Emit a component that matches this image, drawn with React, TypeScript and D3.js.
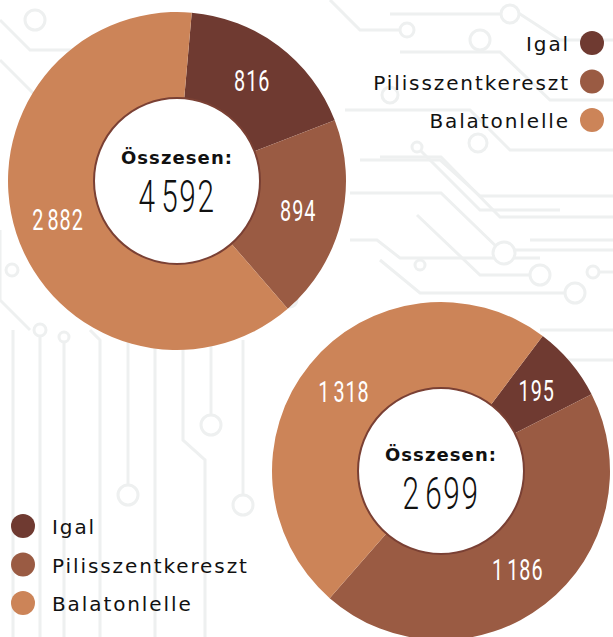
import React from 'react';
import * as d3 from 'd3';

const categories = ['Igal', 'Pilisszentkereszt', 'Balatonlelle'];
const valuesTop = [816, 894, 2882];
const valuesBottom = [195, 1186, 1318];
const totalLabel = 'Összesen:';
const colors = ['#6f3a31', '#9a5b43', '#cc8458'];

const W = 613;
const H = 637;
const R_OUT = 169;
const R_IN = 83;

const fmt = d3.formatLocale({ decimal: ',', thousands: '\u200A', grouping: [3], currency: ['', ''] }).format(',d');

// faint circuit board traces behind the charts
const traces: [number, number][][] = [
  [[0, 20], [30, 50], [150, 50]],
  [[0, 60], [35, 95], [60, 95]],
  [[330, 0], [360, 30], [400, 30]],
  [[390, 14], [520, 14], [560, 40], [613, 40]],
  [[400, 52], [500, 52], [550, 100], [613, 100]],
  [[345, 110], [470, 110], [510, 150], [613, 150]],
  [[360, 160], [440, 160], [480, 196], [613, 196]],
  [[380, 157], [441, 157], [500, 217], [613, 217]],
  [[350, 193], [441, 193], [500, 250], [613, 250]],
  [[350, 240], [377, 240], [400, 258], [540, 258]],
  [[417, 147], [480, 210], [560, 210]],
  [[417, 215], [480, 275], [540, 275]],
  [[380, 260], [420, 293], [570, 293]],
  [[530, 240], [613, 240]],
  [[590, 272], [613, 272]],
  [[13, 330], [13, 637]],
  [[40, 330], [40, 637]],
  [[64, 337], [64, 637]],
  [[90, 330], [100, 340], [100, 637]],
  [[128, 340], [128, 490]],
  [[155, 340], [155, 637]],
  [[183, 340], [183, 440], [205, 460], [205, 637]],
  [[211, 340], [211, 420]],
  [[243, 340], [243, 500]],
  [[250, 300], [280, 300]],
  [[0, 230], [0, 300], [30, 330]],
  [[540, 330], [613, 330]],
  [[550, 360], [613, 360]],
];
const traceDots: [number, number, number][] = [
  [35, 20, 10], [150, 50, 5], [70, 95, 6], [407, 30, 7], [510, 14, 9], [480, 40, 10],
  [390, 95, 8], [478, 143, 9], [417, 147, 5], [504, 253, 11], [420, 265, 5],
  [540, 275, 10], [575, 293, 10], [593, 272, 6], [40, 330, 6], [64, 337, 5],
  [211, 425, 10], [128, 495, 10], [243, 505, 10], [290, 300, 7], [12, 270, 6],
];

type DonutProps = { values: number[]; cx: number; cy: number; startDeg: number; textDy: number };

const Donut = ({ values, cx, cy, startDeg, textDy }: DonutProps) => {
  const a0 = (startDeg * Math.PI) / 180;
  const pie = d3.pie<number>().sort(null).value(d => d).startAngle(a0).endAngle(a0 + 2 * Math.PI);
  const arcs = pie(values);
  const arc = d3.arc<d3.PieArcDatum<number>>().innerRadius(R_IN).outerRadius(R_OUT);
  const labelArc = d3.arc<d3.PieArcDatum<number>>().innerRadius(R_IN + 42).outerRadius(R_IN + 42);
  const total = d3.sum(values);
  return (
    <g transform={`translate(${cx},${cy})`}>
      {arcs.map((a, i) => (
        <path key={i} d={arc(a) || ''} fill={colors[i]} />
      ))}
      {arcs.map((a, i) => {
        const [x, y] = labelArc.centroid(a);
        return (
          <text key={'l' + i} transform={`translate(${x},${y + 10}) scale(0.66,1)`} textAnchor="middle"
            fill="#fff" fontFamily="Roboto, sans-serif" fontSize={30} letterSpacing={1.5}>
            {fmt(a.data)}
          </text>
        );
      })}
      <circle r={R_IN} fill="#fff" stroke="#7a4034" strokeWidth={2} />
      <text y={textDy - 17} textAnchor="middle" fontFamily="'DejaVu Sans', sans-serif" fontWeight="bold"
        fontSize={18} letterSpacing={1.1} fill="#111">
        {totalLabel}
      </text>
      <text transform={`translate(0,${textDy + 31}) scale(0.66,1)`} textAnchor="middle"
        fontFamily="Roboto, sans-serif" fontWeight={300} fontSize={45} letterSpacing={2.5} fill="#111">
        {fmt(total)}
      </text>
    </g>
  );
};

type LegendProps = { x: number; y: number; align: 'left' | 'right' };

const Legend = ({ x, y, align }: LegendProps) => {
  const yScale = d3.scalePoint<string>().domain(categories).range([0, 77]);
  return (
    <g transform={`translate(${x},${y})`}>
      {categories.map((c, i) => {
        const yy = yScale(c) || 0;
        return (
          <g key={c}>
            <circle cx={0} cy={yy} r={12} fill={colors[i]} />
            <text x={align === 'right' ? -22 : 29} y={yy + 8} textAnchor={align === 'right' ? 'end' : 'start'}
              fontFamily="'DejaVu Sans', sans-serif" fontSize={20} letterSpacing={1.9} fill="#111">
              {c}
            </text>
          </g>
        );
      })}
    </g>
  );
};

export default function App() {
  return (
    <svg width={W} height={H} style={{ position: 'absolute', left: 0, top: 0, background: '#fff' }}>
      <g fill="none" stroke="#eef0f0" strokeWidth={3}>
        {traces.map((t, i) => (
          <path key={i} d={d3.line()(t) || ''} />
        ))}
        {traceDots.map(([x, y, r], i) => (
          <circle key={'d' + i} cx={x} cy={y} r={r} fill="#fff" />
        ))}
      </g>
      <Donut values={valuesTop} cx={177} cy={181} startDeg={5} textDy={0} />
      <Donut values={valuesBottom} cx={441} cy={471} startDeg={37} textDy={7} />
      <Legend x={592} y={43} align="right" />
      <Legend x={23} y={526} align="left" />
    </svg>
  );
}
